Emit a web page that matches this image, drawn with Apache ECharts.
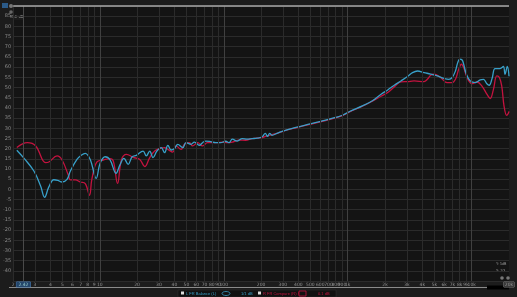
<!DOCTYPE html>
<html><head><meta charset="utf-8">
<script src="https://cdn.jsdelivr.net/npm/echarts@6/dist/echarts.min.js"></script>
<style>html,body{margin:0;padding:0;background:#1c1c1c;}#c{width:517px;height:297px;}</style>
</head><body><div id="c"></div>
<script>
// Frequencies (Hz) and levels (dB)
const redFreq = [2.14,2.60,3.04,3.65,3.88,4.52,4.96,5.61,5.79,6.35,6.96,7.63,8.26,8.62,9.45,10.69,12.10,12.85,13.91,14.98,16.42,18.58,21.02,23.04,25.27,27.71,30.38,33.32,35.40,38.82,41.26,45.24,48.15,52.80,56.10,61.52,67.45,73.96,81.10,88.92,97.5,106.9,117.2,132.6,149.7,169.4,203.7,223.4,268.6,303.8,388.2,496,634.8,811,917,1036,1326,1594,1858,2102,2374,2685,3038,3432,4126,4391,4667,4960,5611,6348,6960,7396,7858,8260,8618,9173,10060,11030,12100,13260,14090,14980,15950,16730,17480,18240,19170,19740,20000];
const redDb = [20.5,22.9,21.3,13.1,13.4,16.4,14.4,6.5,4.6,4.6,3.6,2.8,-2.9,4.9,13.4,14.4,15.1,13.9,2.9,14.7,17.2,15.7,14.7,11.2,15.6,18.8,20.0,20.5,19.6,18.3,21.3,19.6,22.1,22.9,21.3,22.9,21.3,22.9,22.9,22.9,23.2,22.9,23.2,24.2,24.1,24.9,25.4,26.3,27.5,28.6,30.3,31.9,33.5,35.2,36.3,38.0,40.9,43.4,45.7,47.5,50.3,52.7,52.9,53.2,52.9,54.0,56.0,56.5,54.9,52.4,52.4,54.0,58.9,61.4,59.8,54.9,51.9,52.7,50.7,46.7,44.6,49.1,55.7,54.9,50.7,40.9,36.3,37.3,38.3];
const blueFreq = [2.14,2.45,2.94,3.33,3.59,3.88,4.26,4.58,4.96,5.44,5.79,6.54,7.13,7.63,8.37,9.35,10.06,11.03,12.10,13.51,14.54,15.65,16.94,18.24,19.74,22.34,23.73,25.27,26.86,28.91,31.29,33.32,35.40,37.62,40.06,42.56,46.67,49.59,54.38,57.89,63.48,67.45,71.67,78.58,86.17,94.5,103.6,110.3,117.2,128.5,140.9,154.5,169.4,185.8,203.7,216.4,225.4,234.7,244.9,268.6,303.8,388.2,496,634.8,811,917,1036,1326,1594,1858,2102,2374,2685,3038,3332,3653,4126,4667,5282,5965,6538,6960,7396,7718,8005,8366,8618,9057,9750,10690,11720,12460,13260,13840,14620,15450,16940,18010,18580,19380,20000];
const blueDb = [19.2,15.2,9.0,1.6,-3.9,1.2,4.7,4.4,3.6,4.9,9.0,14.7,16.9,17.7,14.7,5.4,12.8,16.0,14.5,7.9,12.0,15.2,12.3,16.0,16.7,18.8,16.4,18.8,15.6,18.8,20.5,18.0,21.6,19.3,20.0,22.1,20.5,22.9,22.1,23.2,21.6,22.9,23.7,23.4,22.9,22.9,23.6,22.9,24.6,23.7,24.9,24.6,24.9,25.1,25.8,27.5,26.0,27.5,26.5,27.5,28.7,30.5,32.1,33.7,35.4,36.5,38.2,41.1,43.6,46.7,48.8,51.1,53.2,55.4,57.3,58.1,57.3,56.6,55.7,54.5,54.0,54.9,58.1,62.2,63.9,63.5,61.4,56.5,53.2,52.4,53.7,54.0,51.8,51.1,54.5,59.3,59.3,60.3,56.5,60.3,55.5];
const freqTicks = [2,3,4,5,6,7,8,9,10,20,30,40,50,60,70,80,90,100,200,300,400,500,600,700,800,900,1000,2000,3000,4000,5000,6000,7000,8000,9000,10000];
const decades = [10,100,1000,10000];
const cursorFreq = 2.42;
const yMin = -45, yMax = 90;

const fmtF = v => v >= 1000 ? (v/1000) + 'k' : String(v);
const chart = echarts.init(document.getElementById('c'), null, {renderer:'canvas'});

function vline(f, color, label) {
  return [
    {coord:[f, yMin], lineStyle:{color: color, width:1, type:'solid', opacity:1}, label: label},
    {coord:[f, yMax]}
  ];
}
const gridLines = freqTicks.map(f => vline(f, decades.includes(f) ? '#404040' : '#2b2b2b', {formatter: fmtF(f)}));
gridLines.push(vline(20000, 'rgba(0,0,0,0)', {formatter:'20k', backgroundColor:'#3a3a3a', borderColor:'#777', borderWidth:0.5, padding:[0,1]}));
gridLines.push(vline(cursorFreq, '#4a4a4a', {formatter:'2.42', backgroundColor:'#23456a', borderColor:'#4a7ab0', borderWidth:0.5, color:'#9cc', padding:[0,2]}));

chart.setOption({
  backgroundColor: '#1c1c1c',
  animation: false,
  grid: {left: 9, right: 8, top: 6, bottom: 16, show: true, backgroundColor: '#141414', borderWidth: 0},
  xAxis: {type: 'log', logBase: 10, min: 2, max: 20000,
    axisLine:{show:false}, axisTick:{show:false}, axisLabel:{show:false}, splitLine:{show:false}},
  yAxis: {type: 'value', min: yMin, max: yMax, interval: 5,
    axisLine:{show:false}, axisTick:{show:false},
    axisLabel:{fontSize:5, color:'#8c8c8c', margin:2, fontFamily:'DejaVu Sans',
      formatter: v => (v === -45 || v === 90) ? '' : String(v)},
    splitLine:{lineStyle:{color:'#2b2b2b', width:1}}},
  series: [
    {type:'line', data: [[2,yMin],[20000,yMin]], silent:true, showSymbol:false, lineStyle:{opacity:0}, z:1,
      markLine:{symbol:'none', silent:true, animation:false,
        lineStyle:{color:'#2b2b2b', width:1, type:'solid'},
        label:{show:true, position:'start', distance:1, fontSize:4.5, color:'#909090', fontFamily:'DejaVu Sans'},
        data: gridLines}},
    {type:'line', data: [], silent:true, z:1,
      markLine:{symbol:'none', silent:true, label:{show:false},
        data:[[{coord:[2,yMax], lineStyle:{color:'#a8a8a8', width:1.5, type:'solid'}},{coord:[20000,yMax]}]]}},
    {name:'R', type:'line', smooth:0.4, showSymbol:false, z:3,
      lineStyle:{color:'#c3133f', width:1.3}, itemStyle:{color:'#c3133f'},
      data: redFreq.map((f,i)=>[f, redDb[i]])},
    {name:'L', type:'line', smooth:0.4, showSymbol:false, z:4,
      lineStyle:{color:'#38a0c9', width:1.3}, itemStyle:{color:'#38a0c9'},
      data: blueFreq.map((f,i)=>[f, blueDb[i]])}
  ],
  graphic: [
    {type:'rect', shape:{x:2,y:3,width:6,height:5}, style:{fill:'#2b5a88'}},
    {type:'circle', shape:{cx:11,cy:6,r:2}, style:{fill:'#777'}},
    {type:'circle', shape:{cx:11,cy:12,r:1.8}, style:{fill:'#666'}},
    {type:'rect', shape:{x:9,y:15,width:15,height:5}, style:{fill:'#1b1b1b'}},
    {type:'text', style:{x:10,y:17.5,text:'95.0  dB', fontSize:3.5, fill:'#aaa', verticalAlign:'middle'}},
    {type:'line', shape:{x1:9,y1:287.5,x2:509,y2:287.5}, style:{stroke:'#8a8a8a', lineWidth:1}},
    {type:'rect', shape:{x:487,y:285.5,width:22,height:4}, style:{fill:'#000'}},
    {type:'rect', shape:{x:178,y:290,width:158,height:7}, style:{fill:'#111', stroke:'#333', lineWidth:0.5}},
    {type:'rect', shape:{x:181,y:291.5,width:3,height:3}, style:{fill:'#ddd'}},
    {type:'text', style:{x:186,y:293.5,text:'L FR Balance (L)', fontSize:4, fill:'#38a0c9', verticalAlign:'middle'}},
    {type:'ellipse', shape:{cx:226,cy:293.5,rx:4,ry:2}, style:{fill:'#111', stroke:'#38a0c9', lineWidth:0.8}},
    {type:'text', style:{x:241,y:293.5,text:'1/1 dB', fontSize:4, fill:'#38a0c9', verticalAlign:'middle'}},
    {type:'rect', shape:{x:258,y:291.5,width:3,height:3}, style:{fill:'#ddd'}},
    {type:'text', style:{x:263,y:293.5,text:'R FR Compare (R) R', fontSize:4, fill:'#c3133f', verticalAlign:'middle'}},
    {type:'rect', shape:{x:299,y:291,width:7,height:5}, style:{fill:'#111', stroke:'#c3133f', lineWidth:0.8}},
    {type:'text', style:{x:318,y:293.5,text:'0.1 dB', fontSize:4, fill:'#c3133f', verticalAlign:'middle'}},
    {type:'text', style:{x:496,y:264,text:'Y: 5dB', fontSize:3.5, fill:'#999', verticalAlign:'middle'}},
    {type:'text', style:{x:496,y:271,text:'X: 1/3', fontSize:3.5, fill:'#999', verticalAlign:'middle'}},
    {type:'circle', shape:{cx:502,cy:278,r:1.8}, style:{fill:'#777'}},
    {type:'circle', shape:{cx:508,cy:278,r:1.8}, style:{fill:'#777'}}
  ]
});
</script></body></html>
